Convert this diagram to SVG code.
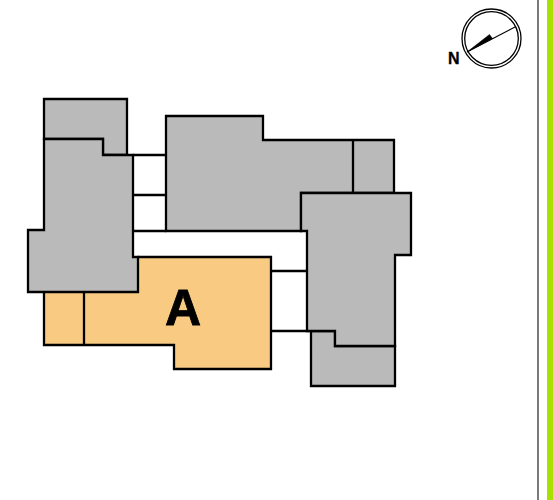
<svg xmlns="http://www.w3.org/2000/svg" width="553" height="500" viewBox="0 0 553 500">
<style>
.b{stroke:#000;stroke-width:2.300;stroke-linejoin:miter;fill:none}
.g{fill:#bababa;stroke:#000;stroke-width:2.300}
.o{fill:#f9cb82}
text{font-family:"Liberation Sans",Arial,sans-serif;font-weight:bold;fill:#000;stroke:#000}
</style>
<rect width="553" height="500" fill="#fff"/>
<g id="border">
<rect x="537" y="0" width="2" height="500" fill="#7a7a7a"/>
<rect x="547" y="0" width="6" height="500" fill="#a9e000"/>
</g>
<g id="connectors">
<path class="b" d="M133 155H166M133 195H166M133 231H166M271 271H307M271 331H311"/>
</g>
<g id="block-a">
<path class="o" d="M44 292H138V257H271V369H174V345H44Z"/>
<path class="b" d="M138 257H271V369H174V345H44V292M84 292V345"/>
<text x="183" y="325" font-size="50" stroke-width="0.800" text-anchor="middle">A</text>
</g>
<g id="block-top-left">
<path class="g" d="M44 99H127V155H103V139H44Z"/>
</g>
<g id="block-left">
<path class="g" d="M44 139H103V155H133V257H138V292H28V230H44Z"/>
</g>
<g id="block-middle">
<path class="g" d="M166 116H263V140H394V193H301V231H166Z"/>
<path class="b" d="M353 140V193"/>
</g>
<g id="block-bottom-right">
<path class="g" d="M311 331H335V346H395V386H311Z"/>
</g>
<g id="block-right">
<path class="g" d="M301 193H411V255H395V346H335V331H307V231H301Z"/>
</g>
<g id="compass">
<circle cx="491.500" cy="38.500" r="29.500" fill="#fff" stroke="#000" stroke-width="1.300"/>
<circle cx="491.500" cy="38.500" r="26.800" fill="#fff" stroke="#000" stroke-width="1.300"/>
<path d="M467 52L516 26.500" stroke="#000" stroke-width="1.200" fill="none"/>
<path d="M467 52L489.500 34.500L492.500 38.500Z" fill="#000" stroke="#000" stroke-width="0.500"/>
<text x="448" y="64" font-size="16" stroke-width="0.300">N</text>
</g>
</svg>
